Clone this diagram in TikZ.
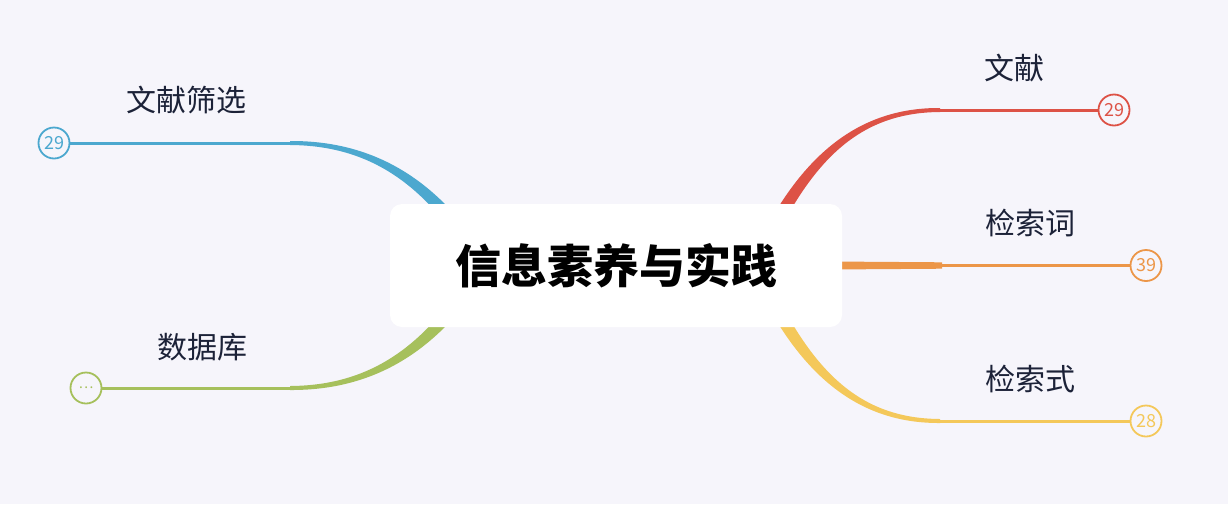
\documentclass[tikz,border=0pt]{standalone}
\usepackage{fontspec}
\setmainfont{Noto Sans CJK SC}
\usetikzlibrary{positioning}
\definecolor{bgcol}{RGB}{246,245,251}
\definecolor{mynavy}{RGB}{28,34,56}
\definecolor{myred}{RGB}{221,82,70}
\definecolor{myorange}{RGB}{236,150,72}
\definecolor{myyellow}{RGB}{244,200,90}
\definecolor{myblue}{RGB}{76,168,207}
\definecolor{mygreen}{RGB}{166,192,92}
\tikzset{
  rootbox/.style={rectangle, fill=white, rounded corners=12pt,
    minimum width=452pt, minimum height=123pt, inner sep=0pt,
    font=\fontsize{46}{46}\selectfont\bfseries, text=black},
  topic/.style={font=\fontsize{30}{30}\selectfont, text=mynavy, inner sep=0pt},
  badge/.style={circle, draw=#1, fill=bgcol, line width=1.8pt,
    minimum size=31pt, inner sep=0pt, text=#1,
    font=\fontsize{18}{18}\selectfont},
  thinline/.style={line width=3pt, draw=#1}
}

\begin{document}
\begin{tikzpicture}[x=1pt, y=-1pt]
  % Background
  \fill[bgcol] (0,0) rectangle (1228,504);
  \useasboundingbox (0,0) rectangle (1228,504);

  % --- Junctions where branches turn flat ---
  \coordinate (jscreen) at (290,143);
  \coordinate (jdb) at (290,388);
  \coordinate (jlit) at (940,110);
  \coordinate (jterms) at (942,265.5);
  \coordinate (jquery) at (940,421);

  % --- Tapered branches ---
  \fill[myblue] (290,141) .. controls (370,140.5) and (435,176) .. (486,256)
    -- (474,264) .. controls (425,184) and (370,145.5) .. (290,145) -- cycle;
  \fill[mygreen] (290,390) .. controls (370,390.5) and (435,355) .. (486,275)
    -- (474,267) .. controls (425,347) and (370,385.5) .. (290,386) -- cycle;
  \fill[myred] (940,108) .. controls (860,107.5) and (800.5,153.4) .. (754,252)
    -- (766,258) .. controls (811.5,158.6) and (860,112.5) .. (940,112) -- cycle;
  \fill[myyellow] (940,423) .. controls (860,423.5) and (800.5,377.6) .. (754,279)
    -- (766,273) .. controls (811.5,372.4) and (860,418.5) .. (940,419) -- cycle;
  \fill[myorange] (830,261.5) -- (942,262.3) -- (942,268.7) -- (830,269.5) -- cycle;

  % --- Central topic ---
  \node[rootbox] (root) at (616,265.5) {信息素养与实践};

  % --- Badges ---
  \node[badge=myblue] (screennum) at (54,143) {29};
  \node[badge=mygreen, font=\fontsize{14}{14}\selectfont] (dbnum) at (86,388) {…};
  \node[badge=myred] (litnum) at (1114,110) {29};
  \node[badge=myorange] (termsnum) at (1146,265.5) {39};
  \node[badge=myyellow] (querynum) at (1146,421) {28};

  % --- Flat connectors ---
  \draw[thinline=myblue] (jscreen) -- (screennum);
  \draw[thinline=mygreen] (jdb) -- (dbnum);
  \draw[thinline=myred] (jlit) -- (litnum);
  \draw[thinline=myorange] (jterms) -- (termsnum);
  \draw[thinline=myyellow] (jquery) -- (querynum);

  % --- Labels ---
  \node[topic] (screen) at (186,100) {文献筛选};
  \node[topic] (db) at (202,347) {数据库};
  \node[topic] (lit) at (1014,68) {文献};
  \node[topic] (terms) at (1030,223) {检索词};
  \node[topic] (query) at (1030,379) {检索式};
\end{tikzpicture}
\end{document}
